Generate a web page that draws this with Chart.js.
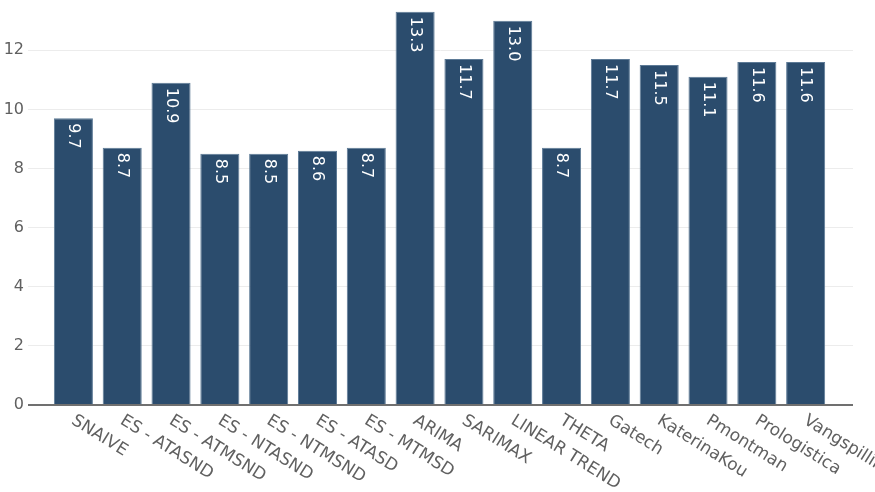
<!DOCTYPE html>
<html><head><meta charset="utf-8">
<script src="https://cdn.jsdelivr.net/npm/chart.js@4"></script>
<style>html,body{margin:0;padding:0;background:#fff}#wrap{width:875px;height:492px}</style>
</head><body><div id="wrap"><canvas id="c" width="875" height="492"></canvas></div>
<script>
const categories = ["SNAIVE","ES - ATASND","ES - ATMSND","ES - NTASND","ES - NTMSND","ES - ATASD","ES - MTMSD","ARIMA","SARIMAX","LINEAR TREND","THETA","Gatech","KaterinaKou","Pmontman","Prologistica","Vangspilling"];
const values = [9.7, 8.7, 10.9, 8.5, 8.5, 8.6, 8.7, 13.3, 11.7, 13.0, 8.7, 11.7, 11.5, 11.1, 11.6, 11.6];
const yTickValues = [0, 2, 4, 6, 8, 10, 12];

const FONT = '"DejaVu Sans", Verdana, sans-serif';
const BAR = '#2b4c6d';
const TEXT = '#606060';

const labelPlugin = {
  id: 'labels',
  afterDatasetsDraw(chart) {
    const ctx = chart.ctx;
    const meta = chart.getDatasetMeta(0);
    ctx.save();
    ctx.font = '16px ' + FONT;
    ctx.fillStyle = '#ffffff';
    ctx.textAlign = 'left';
    ctx.textBaseline = 'middle';
    meta.data.forEach((bar, i) => {
      ctx.save();
      ctx.translate(bar.x, bar.y + 5);
      ctx.rotate(Math.PI / 2);
      ctx.fillText(values[i].toFixed(1), 0, 0);
      ctx.restore();
    });
    const xs = chart.scales.x;
    ctx.font = '17px ' + FONT;
    ctx.fillStyle = TEXT;
    ctx.textBaseline = 'top';
    categories.forEach((c, i) => {
      const px = xs.getPixelForValue(i);
      ctx.save();
      ctx.translate(px + 4, 412);
      ctx.rotate(32 * Math.PI / 180);
      ctx.fillText(c, 0, 0);
      ctx.restore();
    });
    ctx.restore();
  }
};

new Chart(document.getElementById('c'), {
  type: 'bar',
  data: {
    datasets: [{
      data: values.map((v, i) => ({x: i, y: v})),
      backgroundColor: BAR,
      borderColor: '#5d7a96',
      borderWidth: 1,
      borderSkipped: 'bottom',
      barPercentage: 0.8,
      categoryPercentage: 1.0
    }]
  },
  options: {
    responsive: false,
    animation: false,
    layout: {padding: {top: 0, right: 22, left: 0, bottom: 0}},
    plugins: {legend: {display: false}, tooltip: {enabled: false}},
    scales: {
      x: {
        type: 'linear',
        offset: false,
        min: -0.93,
        max: 15.97,
        ticks: {display: false},
        grid: {display: false, offset: false},
        border: {display: false},
        afterFit(s) { s.height = 87; s.paddingLeft = 0; s.paddingRight = 0; }
      },
      y: {
        min: 0,
        max: 13.7,
        afterBuildTicks(s) { s.ticks = yTickValues.map(v => ({value: v})); },
        ticks: {font: {family: FONT, size: 16}, color: TEXT, padding: 4},
        grid: {
          drawTicks: false,
          color: c => c.tick && c.tick.value === 0 ? '#707070' : '#ececec',
          lineWidth: c => c.tick && c.tick.value === 0 ? 2 : 1
        },
        border: {display: false},
        afterFit(s) { s.width = 28; s.paddingTop = 0; s.paddingBottom = 0; }
      }
    }
  },
  plugins: [labelPlugin]
});
</script>
</body></html>
